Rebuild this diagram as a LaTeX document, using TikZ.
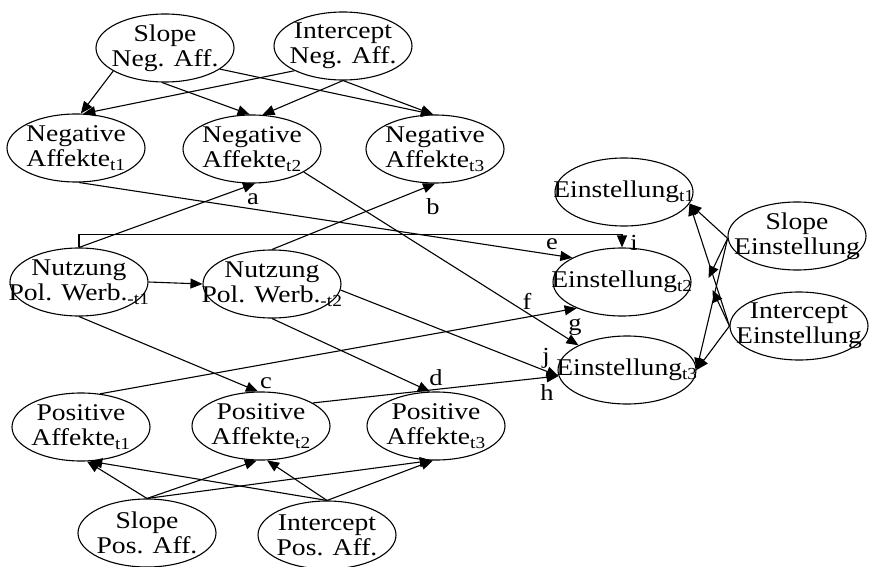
\documentclass[tikz,border=0pt]{standalone}
\usepackage{fontspec}
\setmainfont[FakeStretch=1.15]{Liberation Serif}
\usetikzlibrary{arrows.meta,calc,shapes.geometric}
\begin{document}
\begin{tikzpicture}[x=1pt,y=-1pt,
  var/.style={draw, ellipse, minimum width=138pt, minimum height=68pt, inner sep=0pt, line width=1.1pt},
  vtxt/.style={align=center, inner sep=0pt, font=\fontsize{24}{25}\selectfont},
  arr/.style={-{Triangle[length=12pt,width=10pt]}, line width=1.1pt},
  lab/.style={inner sep=0pt, font=\fontsize{23}{25}\selectfont}]
\useasboundingbox (0,0) rectangle (870,567);

% latent variables
\node[var, label={[vtxt]center:{Slope\\Neg. Aff.}}] (sn) at (165,48) {};
\node[var, label={[vtxt]center:{Intercept\\Neg. Aff.}}] (in) at (343,46) {};
\node[var, label={[vtxt]center:{Negative\\Affekte\textsubscript{t1}}}] (na1) at (76,148) {};
\node[var, label={[vtxt]center:{Negative\\Affekte\textsubscript{t2}}}] (na2) at (252,149) {};
\node[var, label={[vtxt]center:{Negative\\Affekte\textsubscript{t3}}}] (na3) at (435,149) {};
\node[var, label={[vtxt]center:{Nutzung\\Pol. Werb.\textsubscript{-t1}}}] (nu1) at (79,282) {};
\node[var, label={[vtxt]center:{Nutzung\\Pol. Werb.\textsubscript{-t2}}}] (nu2) at (272,284) {};
\node[var, label={[vtxt]center:{Einstellung\textsubscript{t1}}}] (e1) at (624,192) {};
\node[var, label={[vtxt]center:{Einstellung\textsubscript{t2}}}] (e2) at (622,282) {};
\node[var, label={[vtxt]center:{Einstellung\textsubscript{t3}}}] (e3) at (627,370) {};
\node[var, label={[vtxt]center:{Slope\\Einstellung}}] (se) at (797,236) {};
\node[var, label={[vtxt]center:{Intercept\\Einstellung}}] (ie) at (799,326) {};
\node[var, label={[vtxt]center:{Positive\\Affekte\textsubscript{t1}}}] (pa1) at (81,427) {};
\node[var, label={[vtxt]center:{Positive\\Affekte\textsubscript{t2}}}] (pa2) at (261,426) {};
\node[var, label={[vtxt]center:{Positive\\Affekte\textsubscript{t3}}}] (pa3) at (436,426) {};
\node[var, label={[vtxt]center:{Slope\\Pos. Aff.}}] (sp) at (147,533) {};
\node[var, label={[vtxt]center:{Intercept\\Pos. Aff.}}] (ip) at (327,535) {};

% negative affect growth
\draw[arr] (sn.-156) -- (na1.82);
\draw[arr] (sn.-95) -- (na2.94);
\draw[arr] (sn.-21) -- (na3.93);
\draw[arr] (in.-153) -- (na1.78);
\draw[arr] (in.south) -- (na2.73);
\draw[arr] (in.south) -- (na3.93);

% positive affect growth
\draw[arr] (sp.north) -- (pa1.-80);
\draw[arr] (sp.north) -- (pa2.-97);
\draw[arr] (sp.north) -- (pa3.-97);
\draw[arr] (ip.north) -- (pa1.-75);
\draw[arr] (ip.north) -- (pa2.-80);
\draw[arr] (ip.north) -- (pa3.-95);

% attitude growth
\draw[arr] (se.182) -- (e1.-10);
\draw[arr] (ie.west) -- (e1.-10);
\draw[arr] (se.182) -- ($(e2.east)+(17,-4)$);
\draw[arr] (ie.west) -- ($(e2.east)+(21,8)$);
\draw[arr] (se.182) -- (e3.east);
\draw[arr] (ie.west) -- (e3.east);

% structural paths
\draw[arr] (nu1.east) -- (nu2.west);
\draw[arr] (na1.-85) -- (e2.154);
\draw[arr] (nu1.north) -- (na2.-85);
\draw[arr] (nu1.north) -- ++(0,-13) -| (e2.north);
\draw[arr] (nu2.north) -- (na3.-90);
\draw[arr] (na2.-24) -- (e3.153);
\draw[arr] (nu1.south) -- (pa2.95);
\draw[arr] (nu2.south) -- (pa3.100);
\draw[arr] (nu2.-5) -- (e3.185);
\draw[arr] (pa1.60) -- (e2.-150);
\draw[arr] (pa2.24) -- (e3.185);

% path labels
\node[lab] (la) at (253,199) {a};
\node[lab] (lb) at (433,207) {b};
\node[lab] (lc) at (266,383) {c};
\node[lab] (ld) at (436,378) {d};
\node[lab] (le) at (552,244) {e};
\node[lab] (lf) at (527,301) {f};
\node[lab] (lg) at (575,327) {g};
\node[lab] (lh) at (547,393) {h};
\node[lab] (li) at (634,243) {i};
\node[lab] (lj) at (546,358) {j};
\end{tikzpicture}
\end{document}
